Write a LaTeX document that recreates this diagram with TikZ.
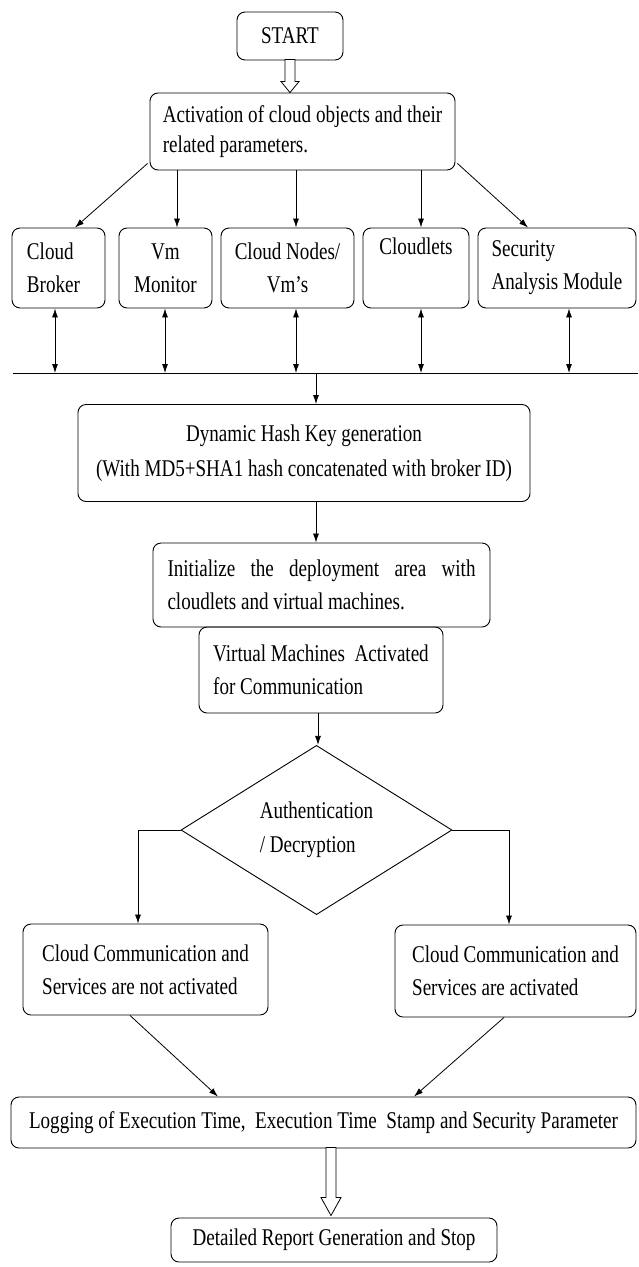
\documentclass[tikz,border=0pt]{standalone}
\usepackage{fontspec}
\setmainfont{Liberation Serif}[FakeStretch=0.795]
\usetikzlibrary{arrows.meta,shapes.geometric,calc}
\hyphenpenalty=10000
\begin{document}
\begin{tikzpicture}[x=1pt,y=-1pt,
  every node/.style={font=\fontsize{24}{33}\selectfont},
  box/.style={draw, rounded corners=8pt, line width=0.9pt, inner sep=0pt},
  arr/.style={-{Latex[length=9pt,width=6pt]}, line width=0.8pt},
  darr/.style={{Latex[length=9pt,width=6pt]}-{Latex[length=9pt,width=6pt]}, line width=0.8pt},
  openarr/.style={draw, fill=white, line width=0.8pt, line join=miter}]
\useasboundingbox (0,0) rectangle (638,1267);

% nodes
\node[box, minimum width=106, minimum height=48] (start) at (290,36) {START};
\node[box, minimum width=305, minimum height=77, align=left, font=\fontsize{24}{30}\selectfont] (act) at (302.5,131.5) {Activation of cloud objects and their\\related parameters.};

\node[box, minimum width=93, minimum height=80, text width=63, align=left] (broker) at (58.5,268) {Cloud\\Broker};
\node[box, minimum width=93, minimum height=80, align=center] (vmmon) at (165.5,268) {Vm\\Monitor};
\node[box, minimum width=133, minimum height=80, align=center] (cnodes) at (287.5,268) {Cloud Nodes/\\Vm’s};
\node[box, minimum width=106, minimum height=80, align=center] (cloudlets) at (416,268) {Cloudlets\\\strut};
\node[box, minimum width=158, minimum height=80, align=left] (secmod) at (557,268) {Security\\Analysis Module};

\node[box, minimum width=452, minimum height=97, align=center, font=\fontsize{24}{35}\selectfont] (dyn) at (304,453) {Dynamic Hash Key generation\\(With MD5+SHA1 hash concatenated with broker ID)};
\node[box, minimum width=337, minimum height=84, align=left] (init) at (321.5,585) {\hbox to 308pt{Initialize\hfill the\hfill deployment\hfill area\hfill with}\\cloudlets and virtual machines.};
\node[box, minimum width=244, minimum height=86, align=left] (virt) at (321,670) {Virtual Machines\ \ Activated\\for Communication};

\node[draw, diamond, line width=0.9pt, minimum width=271, minimum height=165, inner sep=0pt, align=left, font=\fontsize{24}{34}\selectfont] (dia) at (316.5,830) {Authentication\\/ Decryption};

\node[box, minimum width=245, minimum height=91, align=left] (lbox) at (145.5,969.5) {Cloud Communication and\\Services are not activated};
\node[box, minimum width=241, minimum height=92, align=left] (rbox) at (515.5,971) {Cloud Communication and\\Services are activated};

\node[box, minimum width=625, minimum height=51] (log) at (323.5,1122.5) {Logging of Execution Time,\ \ Execution Time\ \ Stamp and Security Parameter};
\node[box, minimum width=326, minimum height=44] (det) at (334,1240) {Detailed Report Generation and Stop};

% helper coordinates
\coordinate (c2) at (177,0);
\coordinate (c3) at (296,0);
\coordinate (c4) at (421,0);
\coordinate (c5) at (528,0);
\coordinate (cb) at (75,0);
\coordinate (b1) at (55,373);
\coordinate (b2) at (165,373);
\coordinate (b3) at (296,373);
\coordinate (b4) at (421,373);
\coordinate (b5) at (569,373);
\coordinate (b0) at (316,373);
\coordinate (busL) at (13,373);
\coordinate (busR) at (638,373);
\coordinate (c6) at (318,0);
\coordinate (lb) at (138,0);
\coordinate (rb) at (509,0);
\coordinate (l1) at (130,0);
\coordinate (l2) at (218,0);
\coordinate (r1) at (504,0);
\coordinate (r2) at (414,0);
\coordinate (c7) at (331,0);
\coordinate (t1) at (start.south |- act.north);
\coordinate (t2) at ($(c7 |- det.north)+(0,-2)$);

% open arrows
\draw[openarr] (t1) -- ++(-9,-11) -- ++(4,0) -- ++(0,-22) -- ++(10,0) -- ++(0,22) -- ++(4,0) -- cycle;
\draw[openarr] (t2) -- ++(-10,-18) -- ++(5,0) -- ++(0,-50) -- ++(10,0) -- ++(0,50) -- ++(5,0) -- cycle;

% activation fan-out
\draw[arr] ($(act.south west)+(-2,-7)$) -- (cb |- broker.north);
\draw[arr] (c2 |- act.south) -- (c2 |- vmmon.north);
\draw[arr] (c3 |- act.south) -- (c3 |- cnodes.north);
\draw[arr] (c4 |- act.south) -- (c4 |- cloudlets.north);
\draw[arr] ($(act.south east)+(2,-7)$) -- (c5 |- secmod.north);

% bus
\draw[line width=0.9pt] (busL) -- (busR);
\draw[darr] (b1 |- broker.south) -- (b1);
\draw[darr] (b2 |- vmmon.south) -- (b2);
\draw[darr] (b3 |- cnodes.south) -- (b3);
\draw[darr] (b4 |- cloudlets.south) -- (b4);
\draw[darr] (b5 |- secmod.south) -- (b5);

% main flow
\draw[arr] (b0) -- (b0 |- dyn.north);
\draw[arr] (b0 |- dyn.south) -- (b0 |- init.north);
\draw[arr] (c6 |- virt.south) -- (c6 |- dia.north);
\draw[arr] (dia.west) -| (lb |- lbox.north);
\draw[arr] (dia.east) -| (rb |- rbox.north);
\draw[arr] (l1 |- lbox.south) -- (l2 |- log.north);
\draw[arr] (r1 |- rbox.south) -- (r2 |- log.north);
\end{tikzpicture}
\end{document}
